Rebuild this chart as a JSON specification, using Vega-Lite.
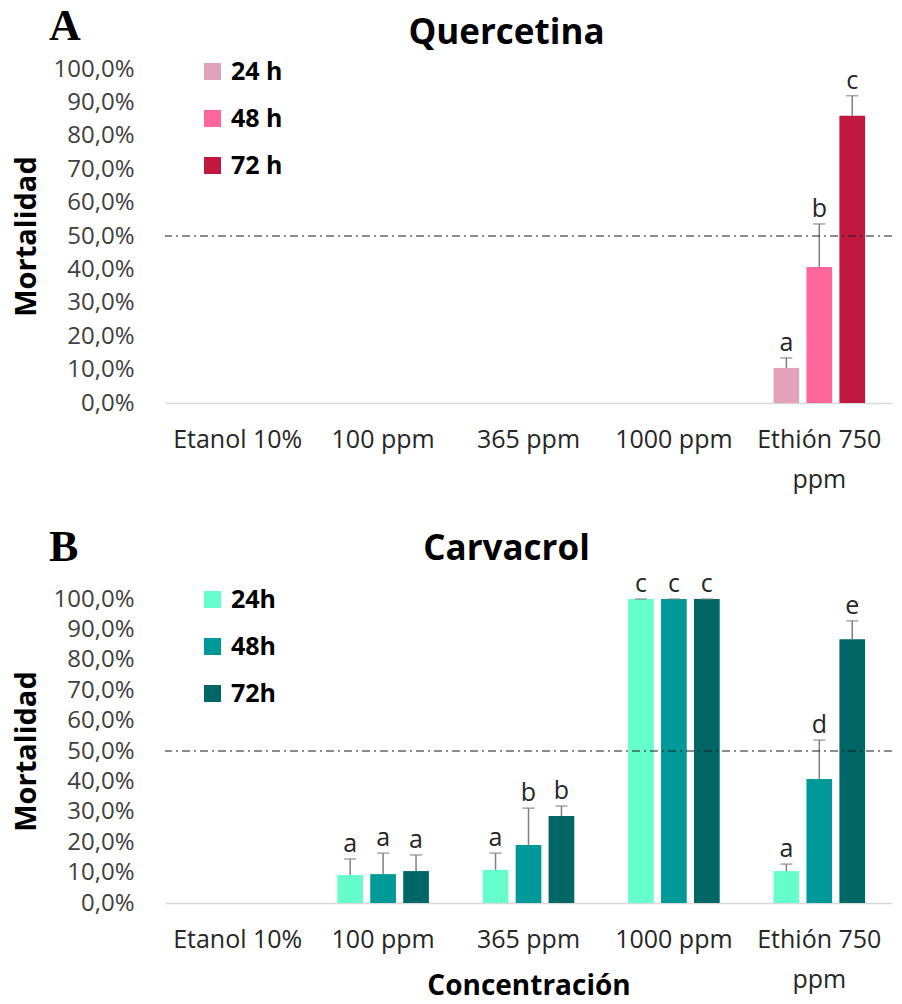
{
  "$schema": "https://vega.github.io/schema/vega-lite/v6.json",
  "padding": {"left": 12, "top": 5, "right": 4, "bottom": 2},
  "background": "white",
  "config": {
    "view": {"stroke": null},
    "font": "Open Sans",
    "concat": {"spacing": 34}
  },
  "datasets": {
    "quercetina": [
      {"concentracion": "Ethión 750 ppm", "tiempo": "24 h", "mortalidad": 0.105, "superior": 0.135, "letra": "a"},
      {"concentracion": "Ethión 750 ppm", "tiempo": "48 h", "mortalidad": 0.407, "superior": 0.536, "letra": "b"},
      {"concentracion": "Ethión 750 ppm", "tiempo": "72 h", "mortalidad": 0.860, "superior": 0.920, "letra": "c"}
    ],
    "carvacrol": [
      {"concentracion": "100 ppm", "tiempo": "24h", "mortalidad": 0.092, "superior": 0.145, "letra": "a"},
      {"concentracion": "100 ppm", "tiempo": "48h", "mortalidad": 0.095, "superior": 0.164, "letra": "a"},
      {"concentracion": "100 ppm", "tiempo": "72h", "mortalidad": 0.105, "superior": 0.158, "letra": "a"},
      {"concentracion": "365 ppm", "tiempo": "24h", "mortalidad": 0.109, "superior": 0.164, "letra": "a"},
      {"concentracion": "365 ppm", "tiempo": "48h", "mortalidad": 0.191, "superior": 0.312, "letra": "b"},
      {"concentracion": "365 ppm", "tiempo": "72h", "mortalidad": 0.286, "superior": 0.319, "letra": "b"},
      {"concentracion": "1000 ppm", "tiempo": "24h", "mortalidad": 1.0, "superior": 1.0, "letra": "c"},
      {"concentracion": "1000 ppm", "tiempo": "48h", "mortalidad": 1.0, "superior": 1.0, "letra": "c"},
      {"concentracion": "1000 ppm", "tiempo": "72h", "mortalidad": 1.0, "superior": 1.0, "letra": "c"},
      {"concentracion": "Ethión 750 ppm", "tiempo": "24h", "mortalidad": 0.105, "superior": 0.128, "letra": "a"},
      {"concentracion": "Ethión 750 ppm", "tiempo": "48h", "mortalidad": 0.408, "superior": 0.536, "letra": "d"},
      {"concentracion": "Ethión 750 ppm", "tiempo": "72h", "mortalidad": 0.868, "superior": 0.928, "letra": "e"}
    ]
  },
  "resolve": {
    "scale": {"color": "independent", "x": "independent", "y": "independent", "xOffset": "independent"},
    "legend": {"color": "independent"}
  },
  "vconcat": [
    {
      "title": {"text": "A", "anchor": "start", "frame": "bounds", "font": "Liberation Serif", "fontSize": 44, "fontWeight": "bold", "color": "#000000", "dx": 37, "offset": -33},
      "vconcat": [
        {
          "width": 727,
          "height": 334,
          "title": {"text": "Quercetina", "anchor": "middle", "font": "Open Sans", "fontSize": 35, "fontWeight": "bold", "color": "#000000", "offset": 6, "dx": -22},
          "layer": [
            {
              "data": {"name": "quercetina"},
              "encoding": {
                "x": {
                  "field": "concentracion", "type": "nominal", "sort": null,
                  "scale": {"domain": ["Etanol 10%", "100 ppm", "365 ppm", "1000 ppm", "Ethión 750 ppm"], "paddingInner": 0.37, "paddingOuter": 0.185},
                  "axis": {
                    "title": null, "labelAngle": 0, "ticks": false, "domainColor": "#D9D9D9", "domainWidth": 1.5,
                    "labelFontSize": 25, "labelColor": "#262626", "labelPadding": 24, "labelLimit": 0, "labelLineHeight": 40,
                    "labelExpr": "datum.value == 'Ethión 750 ppm' ? ['Ethión 750', 'ppm'] : datum.value"
                  }
                },
                "xOffset": {"field": "tiempo", "type": "nominal", "scale": {"domain": ["24 h", "48 h", "72 h"], "paddingInner": 0.22, "paddingOuter": 0}}
              },
              "layer": [
                {
                  "mark": {"type": "bar"},
                  "encoding": {
                    "y": {
                      "field": "mortalidad", "type": "quantitative",
                      "scale": {"domain": [0, 1], "nice": false},
                      "axis": {
                        "title": "Mortalidad", "titleFontSize": 29, "titleFontWeight": "bold", "titleColor": "#000000", "titlePadding": 12,
                        "tickCount": 10, "grid": false, "domain": false, "ticks": false,
                        "labelFontSize": 24, "labelColor": "#404040", "labelPadding": 31,
                        "labelExpr": "replace(format(datum.value, '.1%'), '.', ',')"
                      }
                    },
                    "color": {
                      "field": "tiempo", "type": "nominal",
                      "scale": {"domain": ["24 h", "48 h", "72 h"], "range": ["#E2A3BA", "#FF6699", "#C0183F"]},
                      "legend": {
                        "title": null, "orient": "none", "legendX": 35, "legendY": -10, "symbolType": "square", "symbolSize": 289,
                        "symbolStrokeWidth": 0, "labelFontSize": 25, "labelFontWeight": "bold", "labelColor": "#000000", "rowPadding": 21, "labelOffset": 6
                      }
                    }
                  }
                },
                {
                  "mark": {"type": "rule", "color": "#7F7F7F", "strokeWidth": 1.5},
                  "encoding": {"y": {"field": "mortalidad", "type": "quantitative"}, "y2": {"field": "superior"}}
                },
                {
                  "mark": {"type": "tick", "color": "#7F7F7F", "thickness": 1.5, "size": 12},
                  "encoding": {"y": {"field": "superior", "type": "quantitative"}}
                },
                {
                  "mark": {"type": "text", "baseline": "bottom", "dy": -2, "fontSize": 25, "color": "#262626"},
                  "encoding": {"y": {"field": "superior", "type": "quantitative"}, "text": {"field": "letra"}}
                }
              ]
            },
            {
              "data": {"values": [{"umbral": 0.5}]},
              "mark": {"type": "rule", "color": "#1A1A1A", "strokeWidth": 1.2, "strokeDash": [8, 4, 2, 4]},
              "encoding": {"y": {"field": "umbral", "type": "quantitative"}}
            }
          ]
        }
      ]
    },
    {
      "title": {"text": "B", "anchor": "start", "frame": "bounds", "font": "Liberation Serif", "fontSize": 44, "fontWeight": "bold", "color": "#000000", "dx": 37, "offset": -38},
      "vconcat": [
        {
          "width": 727,
          "height": 304,
          "title": {"text": "Carvacrol", "anchor": "middle", "font": "Open Sans", "fontSize": 35, "fontWeight": "bold", "color": "#000000", "offset": 5, "dx": -22},
          "layer": [
            {
              "data": {"name": "carvacrol"},
              "encoding": {
                "x": {
                  "field": "concentracion", "type": "nominal", "sort": null,
                  "scale": {"domain": ["Etanol 10%", "100 ppm", "365 ppm", "1000 ppm", "Ethión 750 ppm"], "paddingInner": 0.37, "paddingOuter": 0.185},
                  "axis": {
                    "title": "Concentración", "titleFontSize": 28, "titleFontWeight": "bold", "titleColor": "#000000", "titlePadding": -20,
                    "labelAngle": 0, "ticks": false, "domainColor": "#D9D9D9", "domainWidth": 1.5,
                    "labelFontSize": 25, "labelColor": "#262626", "labelPadding": 24, "labelLimit": 0, "labelLineHeight": 40,
                    "labelExpr": "datum.value == 'Ethión 750 ppm' ? ['Ethión 750', 'ppm'] : datum.value"
                  }
                },
                "xOffset": {"field": "tiempo", "type": "nominal", "scale": {"domain": ["24h", "48h", "72h"], "paddingInner": 0.22, "paddingOuter": 0}}
              },
              "layer": [
                {
                  "mark": {"type": "bar"},
                  "encoding": {
                    "y": {
                      "field": "mortalidad", "type": "quantitative",
                      "scale": {"domain": [0, 1], "nice": false},
                      "axis": {
                        "title": "Mortalidad", "titleFontSize": 29, "titleFontWeight": "bold", "titleColor": "#000000", "titlePadding": 12,
                        "tickCount": 10, "grid": false, "domain": false, "ticks": false,
                        "labelFontSize": 24, "labelColor": "#404040", "labelPadding": 31,
                        "labelExpr": "replace(format(datum.value, '.1%'), '.', ',')"
                      }
                    },
                    "color": {
                      "field": "tiempo", "type": "nominal",
                      "scale": {"domain": ["24h", "48h", "72h"], "range": ["#66FFCC", "#009999", "#006666"]},
                      "legend": {
                        "title": null, "orient": "none", "legendX": 35, "legendY": -12, "symbolType": "square", "symbolSize": 289,
                        "symbolStrokeWidth": 0, "labelFontSize": 25, "labelFontWeight": "bold", "labelColor": "#000000", "rowPadding": 21, "labelOffset": 6
                      }
                    }
                  }
                },
                {
                  "mark": {"type": "rule", "color": "#7F7F7F", "strokeWidth": 1.5},
                  "encoding": {"y": {"field": "mortalidad", "type": "quantitative"}, "y2": {"field": "superior"}}
                },
                {
                  "mark": {"type": "tick", "color": "#7F7F7F", "thickness": 1.5, "size": 12},
                  "encoding": {"y": {"field": "superior", "type": "quantitative"}}
                },
                {
                  "mark": {"type": "text", "baseline": "bottom", "dy": -2, "fontSize": 25, "color": "#262626"},
                  "encoding": {"y": {"field": "superior", "type": "quantitative"}, "text": {"field": "letra"}}
                }
              ]
            },
            {
              "data": {"values": [{"umbral": 0.5}]},
              "mark": {"type": "rule", "color": "#1A1A1A", "strokeWidth": 1.2, "strokeDash": [8, 4, 2, 4]},
              "encoding": {"y": {"field": "umbral", "type": "quantitative"}}
            }
          ]
        }
      ]
    }
  ]
}
